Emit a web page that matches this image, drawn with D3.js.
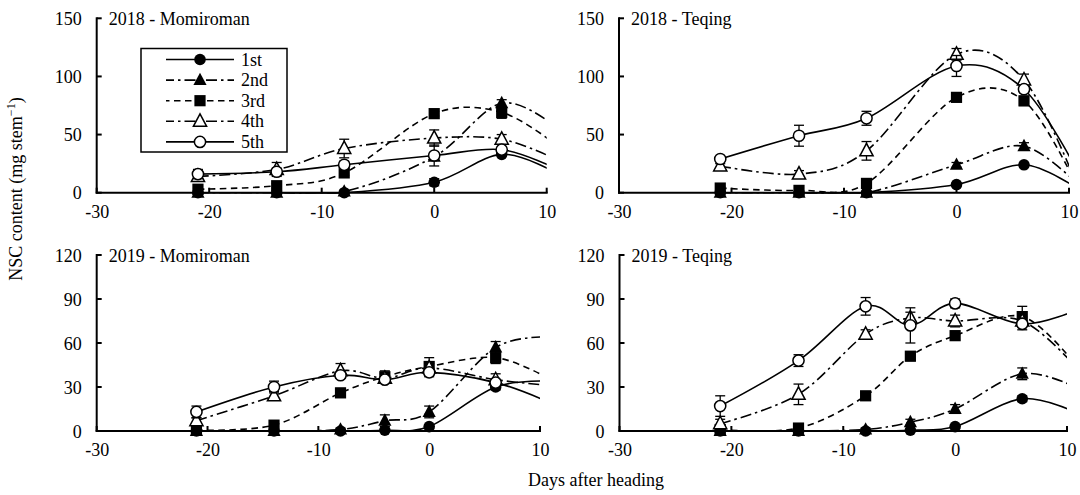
<!DOCTYPE html>
<html>
<head>
<meta charset="utf-8">
<script src="https://cdn.jsdelivr.net/npm/d3@7"></script>
<style>
  body { margin: 0; background: #fff; }
  svg { display: block; }
  text { font-family: "Liberation Serif", "Times New Roman", serif; fill: #000; }
</style>
</head>
<body>
<svg id="chart" width="1080" height="495"></svg>
<script>
// Sampling days (days after heading). The last day of each list lies past the
// axis range: its value only shapes the curve up to the right edge of the plot.
const days2018 = [-21, -14, -8, 0, 6, 11];
const days2019 = [-21, -14, -8, -4, 0, 6, 11];
const xMax = 10;

const seriesNames = ["1st", "2nd", "3rd", "4th", "5th"];
const xTicks = [-30, -20, -10, 0, 10];
const yTicks2018 = [0, 50, 100, 150];
const yTicks2019 = [0, 30, 60, 90, 120];

// NSC content (mg stem-1), one row per tiller order: 1st .. 5th
const momiroman2018 = [
  [0, 0, 0, 9, 33, 16],
  [0, 0, 1, 31, 77, 55],
  [3, 6, 17, 68, 69, 40],
  [14, 20, 38, 47, 46, 28],
  [16, 18, 24, 32, 37, 20]
];
const momiroman2018Err = [
  [0.5, 0.5, 0.5, 3, 2],
  [0.5, 0.5, 1, 2, 3],
  [1, 2, 2, 2, 5],
  [3, 6, 8, 7, 4],
  [4, 3, 3, 9, 2]
];

const teqing2018 = [
  [0, 0, 0, 7, 24, 2],
  [0, 0, 0, 24, 40, 5],
  [4, 2, 8, 82, 79, 0],
  [23, 16, 36, 119, 97, 0],
  [29, 49, 64, 109, 89, 14]
];
const teqing2018Err = [
  [0.5, 0.5, 0.5, 1, 2],
  [0.5, 0.5, 0.5, 2, 3],
  [1, 1, 2, 2, 4],
  [2, 3, 8, 5, 5],
  [2, 9, 6, 9, 3]
];

const momiroman2019 = [
  [0, 0, 0, 0.5, 3, 30, 34],
  [0, 0, 1, 7, 13, 57, 64],
  [0.5, 4, 26, 37, 44, 50, 35],
  [7, 24, 41, 36, 43, 35, 31],
  [13, 30, 38, 35, 40, 33, 19]
];
const momiroman2019Err = [
  [0.3, 0.3, 0.3, 0.5, 1, 2],
  [0.3, 0.3, 1, 4, 4, 4],
  [0.5, 2, 3, 4, 6, 4],
  [2, 3, 5, 3, 3, 4],
  [4, 4, 2, 2, 3, 2]
];

const teqing2019 = [
  [0, 0, 0, 0.5, 3, 22, 12],
  [0, 0, 1, 6, 15, 39, 29],
  [1, 2, 24, 51, 65, 78, 43],
  [5, 25, 66, 77, 75, 75, 42],
  [17, 48, 85, 72, 87, 73, 83]
];
const teqing2019Err = [
  [0.3, 0.3, 0.3, 0.5, 1, 2],
  [0.3, 0.3, 1, 2, 3, 4],
  [1, 1, 2, 3, 3, 7],
  [3, 7, 3, 4, 4, 3],
  [7, 4, 6, 12, 3, 4]
];

// Panel frames in page pixels
const panels = [
  { title: "2018 - Momiroman", days: days2018, values: momiroman2018, errors: momiroman2018Err,
    yTicks: yTicks2018, left: 96.7, right: 546.7, top: 18.3, bottom: 192.7 },
  { title: "2018 - Teqing", days: days2018, values: teqing2018, errors: teqing2018Err,
    yTicks: yTicks2018, left: 619, right: 1069, top: 18.3, bottom: 192.7 },
  { title: "2019 - Momiroman", days: days2019, values: momiroman2019, errors: momiroman2019Err,
    yTicks: yTicks2019, left: 96.7, right: 540, top: 255, bottom: 431 },
  { title: "2019 - Teqing", days: days2019, values: teqing2019, errors: teqing2019Err,
    yTicks: yTicks2019, left: 619.5, right: 1067, top: 255, bottom: 431 }
];

// Line and marker style per tiller order
const dashes = [null, "11,4,2.5,4", "6.5,4.5", "11,4,2.5,4", null];
const markers = ["circleFill", "triFill", "squareFill", "triOpen", "circleOpen"];

const svg = d3.select("#chart");
const FONT = 18;
const SERIF = "'Liberation Serif', 'Times New Roman', serif";

function drawMarker(g, type, cx, cy) {
  if (type === "circleFill") {
    g.append("circle").attr("cx", cx).attr("cy", cy).attr("r", 5.8).attr("fill", "#000");
  } else if (type === "circleOpen") {
    g.append("circle").attr("cx", cx).attr("cy", cy).attr("r", 5.6)
      .attr("fill", "#fff").attr("stroke", "#000").attr("stroke-width", 1.5);
  } else if (type === "squareFill") {
    g.append("rect").attr("x", cx - 5.6).attr("y", cy - 5.6).attr("width", 11.2).attr("height", 11.2)
      .attr("fill", "#000");
  } else {
    const pts = [[cx, cy - 7.4], [cx - 6.6, cy + 5], [cx + 6.6, cy + 5]];
    const p = g.append("polygon").attr("points", pts.map(d => d.join(",")).join(" "));
    if (type === "triFill") p.attr("fill", "#000");
    else p.attr("fill", "#fff").attr("stroke", "#000").attr("stroke-width", 1.5);
  }
}

panels.forEach((pn, pi) => {
  const x = d3.scaleLinear().domain([-30, xMax]).range([pn.left, pn.right]);
  const yMax = pn.yTicks[pn.yTicks.length - 1];
  const y = d3.scaleLinear().domain([0, yMax]).range([pn.bottom, pn.top]);
  const g = svg.append("g");

  const clipId = "clip" + pi;
  svg.append("clipPath").attr("id", clipId).append("rect")
    .attr("x", pn.left).attr("y", pn.top - 20)
    .attr("width", pn.right - pn.left).attr("height", pn.bottom - pn.top + 21);

  // axes: labels come from d3 axes, lines and inward ticks drawn below
  const plain = d => String(d);
  const yAxis = d3.axisLeft(y).tickValues(pn.yTicks).tickSize(0).tickPadding(15).tickFormat(plain);
  const xAxis = d3.axisBottom(x).tickValues(xTicks).tickSize(0).tickPadding(9).tickFormat(plain);

  const ya = g.append("g").attr("transform", `translate(${pn.left},0)`).call(yAxis);
  const xa = g.append("g").attr("transform", `translate(0,${pn.bottom})`).call(xAxis);
  [ya, xa].forEach(a => {
    a.attr("font-family", SERIF).attr("font-size", FONT);
    a.select(".domain").remove();
    a.selectAll("text").attr("font-size", FONT).attr("font-family", SERIF);
  });
  ya.selectAll(".tick text").attr("dy", "0.34em");
  xa.selectAll(".tick text").attr("dy", "0.9em");

  g.append("line").attr("x1", pn.left).attr("x2", pn.left).attr("y1", pn.top - 1).attr("y2", pn.bottom + 1)
    .attr("stroke", "#000").attr("stroke-width", 2);
  g.append("line").attr("x1", pn.left - 1).attr("x2", pn.right + 1).attr("y1", pn.bottom).attr("y2", pn.bottom)
    .attr("stroke", "#000").attr("stroke-width", 2);
  pn.yTicks.forEach(t => {
    g.append("line").attr("x1", pn.left).attr("x2", pn.left + 5).attr("y1", y(t)).attr("y2", y(t))
      .attr("stroke", "#000").attr("stroke-width", 2);
  });
  xTicks.forEach(t => {
    g.append("line").attr("x1", x(t)).attr("x2", x(t)).attr("y1", pn.bottom).attr("y2", pn.bottom - 5)
      .attr("stroke", "#000").attr("stroke-width", 2);
  });

  g.append("text").attr("x", pn.left + 12).attr("y", pn.top + 6.5)
    .attr("font-size", FONT).attr("font-family", SERIF).text(pn.title);

  const line = d3.line()
    .x((d, i) => x(pn.days[i]))
    .y(d => y(d))
    .curve(d3.curveCardinal.tension(0));

  pn.values.forEach((vals, si) => {
    const sg = g.append("g");
    const path = sg.append("path").attr("d", line(vals))
      .attr("fill", "none").attr("stroke", "#000").attr("stroke-width", 1.6)
      .attr("clip-path", `url(#${clipId})`);
    if (dashes[si]) path.attr("stroke-dasharray", dashes[si]);

    const errs = pn.errors[si];
    vals.forEach((v, i) => {
      const dday = pn.days[i];
      if (dday > xMax) return;
      const e = errs[i];
      const cx = x(dday);
      const yTop = y(v + e), yBot = y(Math.max(0, v - e));
      sg.append("line").attr("x1", cx).attr("x2", cx).attr("y1", yTop).attr("y2", yBot)
        .attr("stroke", "#000").attr("stroke-width", 1.3);
      [yTop, yBot].forEach(yy => {
        sg.append("line").attr("x1", cx - 5).attr("x2", cx + 5).attr("y1", yy).attr("y2", yy)
          .attr("stroke", "#000").attr("stroke-width", 1.3);
      });
    });
    vals.forEach((v, i) => {
      const dday = pn.days[i];
      if (dday > xMax) return;
      drawMarker(sg, markers[si], x(dday), y(v));
    });
  });
});

// legend (first panel)
const lg = svg.append("g");
lg.append("rect").attr("x", 141).attr("y", 48.5).attr("width", 146).attr("height", 103.5)
  .attr("fill", "#fff").attr("stroke", "#000").attr("stroke-width", 1.5);
seriesNames.forEach((name, i) => {
  const ry = 59.5 + i * 20.6;
  const l = lg.append("line").attr("x1", 166).attr("x2", 234).attr("y1", ry).attr("y2", ry)
    .attr("stroke", "#000").attr("stroke-width", 1.6);
  if (dashes[i]) l.attr("stroke-dasharray", dashes[i]).attr("stroke-dashoffset", 3);
  drawMarker(lg, markers[i], 200, ry);
  lg.append("text").attr("x", 241).attr("y", ry + 6).attr("font-size", FONT)
    .attr("font-family", SERIF).text(name);
});

// shared axis titles
svg.append("text")
  .attr("transform", "translate(22,189) rotate(-90)")
  .attr("text-anchor", "middle").attr("font-size", FONT).attr("font-family", SERIF)
  .call(t => {
    t.append("tspan").text("NSC content (mg stem");
    t.append("tspan").attr("font-size", 12).attr("dy", -7).text("\u22121");
    t.append("tspan").attr("dy", 7).text(")");
  });

svg.append("text").attr("x", 596).attr("y", 486).attr("text-anchor", "middle")
  .attr("font-size", FONT).attr("font-family", SERIF).text("Days after heading");
</script>
</body>
</html>
